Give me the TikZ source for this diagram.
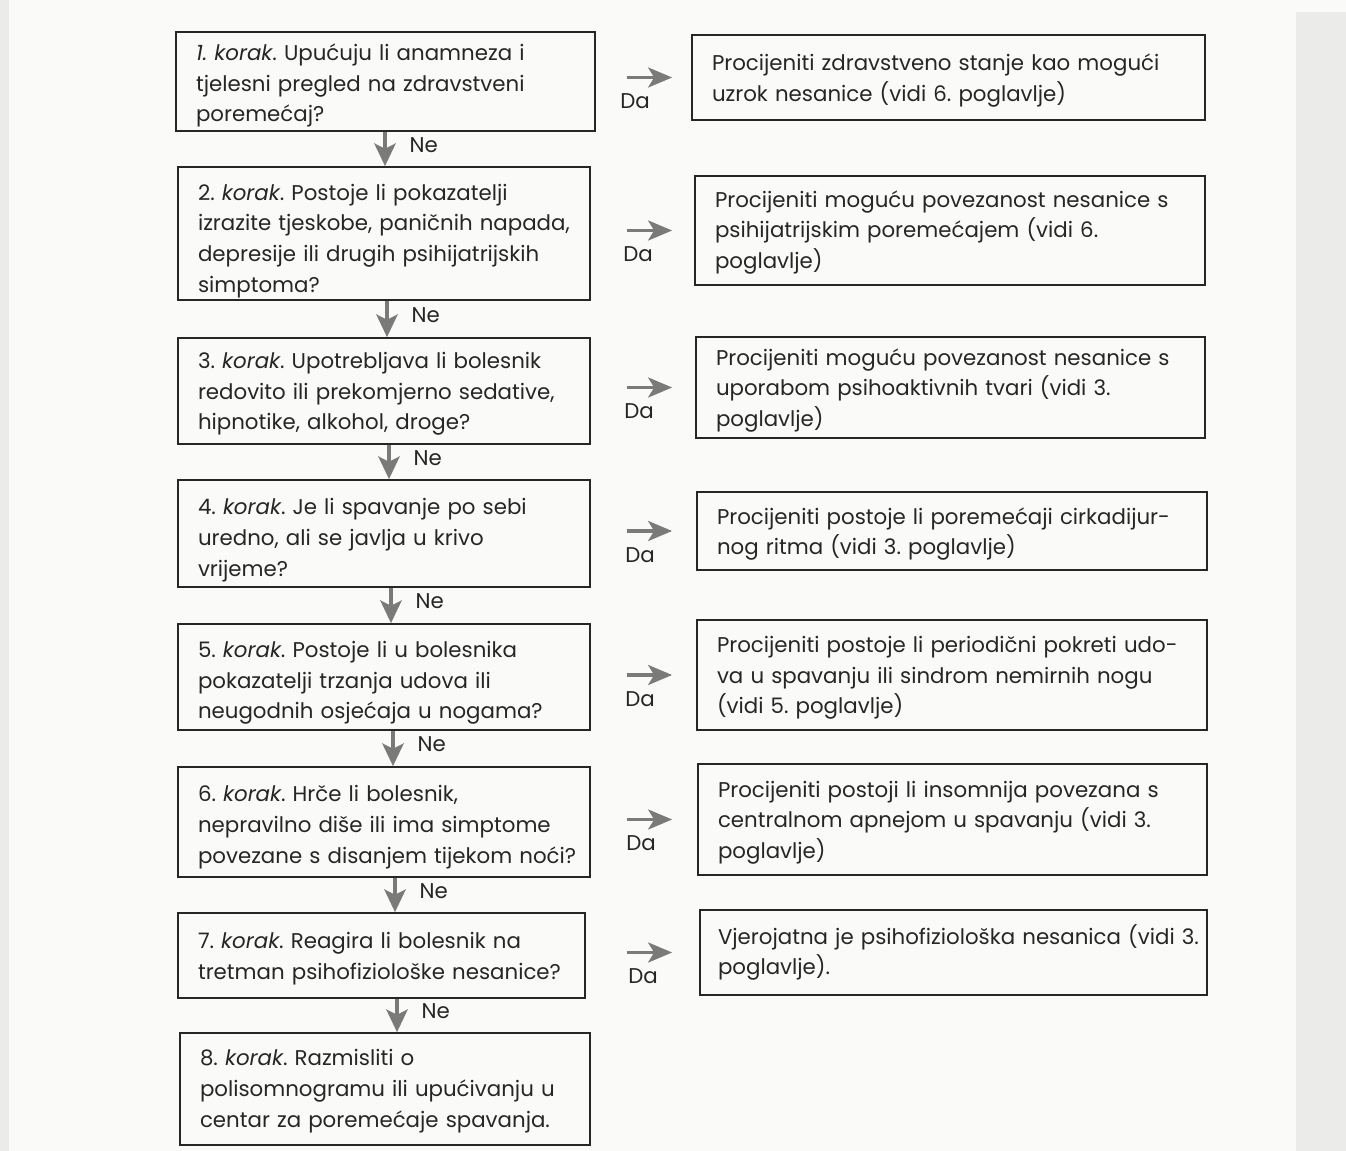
\documentclass[tikz,border=0pt]{standalone}
\usepackage{fontspec}
\setmainfont{Poppins}
\usetikzlibrary{arrows.meta,calc}
\definecolor{ink}{HTML}{262626}
\definecolor{arr}{HTML}{7A7A7A}
\definecolor{paper}{HTML}{FAFBF9}
\definecolor{edge}{HTML}{EBECEA}
\newcommand\myline[1]{\mbox{#1}}
\newcommand\mydrop[1]{\endgraf\vspace*{-#1}}
\begin{document}
\frenchspacing
\begin{tikzpicture}[x=0.75pt,y=-0.75pt,
  box/.style={draw=ink, line width=1.3pt, text=ink, font=\fontsize{16}{23}\selectfont\frenchspacing,
    align=left, inner xsep=15pt, inner ysep=0pt, anchor=center},
  tshift/.style={execute at end node={\mydrop{#1}}},
  nearrow/.style={draw=arr, line width=2.8pt, -{Stealth[length=17pt, width=16pt, inset=4pt]}},
  daarrow/.style={draw=arr, line width=2.6pt, -{Stealth[length=18pt, width=15pt, inset=4.5pt]}},
  lab/.style={text=ink, font=\fontsize{16}{18}\selectfont, inner sep=0pt}
]
% paper
\fill[paper] (0,0) rectangle (1346,1151);
\fill[edge] (0,0) rectangle (9,1151);
\fill[edge] (1296,12) rectangle (1346,1151);

% left column
\node[box, tshift=6pt, text width=284.25pt, minimum height=74.25pt] (L1) at (385.5,81.5)
  {\myline{\textit{1. korak}. Upućuju li anamneza i}\\ \myline{tjelesni pregled na zdravstveni}\\ poremećaj?};
\node[box, tshift=11pt, text width=279pt, minimum height=99.75pt] (L2) at (384,233.5)
  {\myline{2. \textit{korak}. Postoje li pokazatelji}\\ \myline{izrazite tjeskobe, paničnih napada,}\\ \myline{depresije ili drugih psihijatrijskih}\\ simptoma?};
\node[box, tshift=4.5pt, text width=279pt, minimum height=79.5pt] (L3) at (384,391)
  {\myline{3. \textit{korak}. Upotrebljava li bolesnik}\\ \myline{redovito ili prekomjerno sedative,}\\ \myline{hipnotike, alkohol, droge?}};
\node[box, tshift=10pt, text width=279pt, minimum height=80.25pt] (L4) at (384,533.5)
  {\myline{4. \textit{korak}. Je li spavanje po sebi}\\ \myline{uredno, ali se javlja u krivo}\\ vrijeme?};
\node[box, tshift=9pt, text width=279pt, minimum height=79.5pt] (L5) at (384,677)
  {\myline{5. \textit{korak}. Postoje li u bolesnika}\\ \myline{pokazatelji trzanja udova ili}\\ \myline{neugodnih osjećaja u nogama?}};
\node[box, tshift=7.5pt, text width=279pt, minimum height=82.5pt] (L6) at (384,822)
  {\myline{6. \textit{korak}. Hrče li bolesnik,}\\ \myline{nepravilno diše ili ima simptome}\\ \myline{povezane s disanjem tijekom noći?}};
\node[box, tshift=4.5pt, text width=275.25pt, minimum height=63.75pt] (L7) at (381.5,955.5)
  {\myline{7. \textit{korak}. Reagira li bolesnik na}\\ \myline{tretman psihofiziološke nesanice?}};
\node[box, tshift=3pt, text width=277.5pt, minimum height=84pt] (L8) at (385,1089)
  {\myline{8. \textit{korak}. Razmisliti o}\\ \myline{polisomnogramu ili upućivanju u}\\ \myline{centar za poremećaje spavanja.}};

% right column
\node[box, tshift=4.5pt, text width=354.75pt, minimum height=63.75pt] (R1) at (948.5,77.5)
  {\myline{Procijeniti zdravstveno stanje kao mogući}\\ \myline{uzrok nesanice (vidi 6. poglavlje)}};
\node[box, tshift=3pt, text width=352.5pt, minimum height=81.75pt] (R2) at (950,230.5)
  {\myline{Procijeniti moguću povezanost nesanice s}\\ \myline{psihijatrijskim poremećajem (vidi 6.}\\ poglavlje)};
\node[box, tshift=4.5pt, text width=351.75pt, minimum height=75.75pt] (R3) at (950.5,387.5)
  {\myline{Procijeniti moguću povezanost nesanice s}\\ \myline{uporabom psihoaktivnih tvari (vidi 3.}\\ poglavlje)};
\node[box, tshift=4.5pt, text width=352.5pt, minimum height=58.5pt] (R4) at (952,531)
  {\myline{Procijeniti postoje li poremećaji cirkadijur-}\\ \myline{nog ritma (vidi 3. poglavlje)}};
\node[box, tshift=4.5pt, text width=352.5pt, minimum height=82.5pt] (R5) at (952,675)
  {\myline{Procijeniti postoje li periodični pokreti udo-}\\ \myline{va u spavanju ili sindrom nemirnih nogu}\\ \myline{(vidi 5. poglavlje)}};
\node[box, tshift=4.5pt, text width=351.75pt, minimum height=83.25pt] (R6) at (952.5,819.5)
  {\myline{Procijeniti postoji li insomnija povezana s}\\ \myline{centralnom apnejom u spavanju (vidi 3.}\\ poglavlje)};
\node[box, inner xsep=13.5pt, text width=353.25pt, minimum height=63.75pt] (R7) at (953.5,952.5)
  {\myline{Vjerojatna je psihofiziološka nesanica (vidi 3.}\\ poglavlje).};

% Ne arrows
\foreach \a/\b/\dx in {L1/L2/0, L2/L3/2, L3/L4/4, L4/L5/6, L5/L6/8, L6/L7/10, L7/L8/12}{
  \draw[nearrow] ([xshift=\dx*0.75pt]\a.south -| 385,0) -- ([xshift=\dx*0.75pt]\b.north -| 385,0)
    node[lab, midway, anchor=west, xshift=17pt, yshift=3pt] {Ne};
}

% Da arrows
\foreach \l/\r/\sa/\sb in {L1/R1/23.25/14.25, L2/R2/27/16.5, L3/R3/27/17.25, L4/R4/27/18,
    L5/R5/27/18, L6/R6/27/18.75, L7/R7/30.75/20.25}{
  \draw[daarrow, shorten <=\sa pt, shorten >=\sb pt] (\l.east |- \r.west) -- (\r.west);
  \node[lab] (da\r) at ($(\r.west)+(-56,24)$) {Da};
}
\end{tikzpicture}
\end{document}
